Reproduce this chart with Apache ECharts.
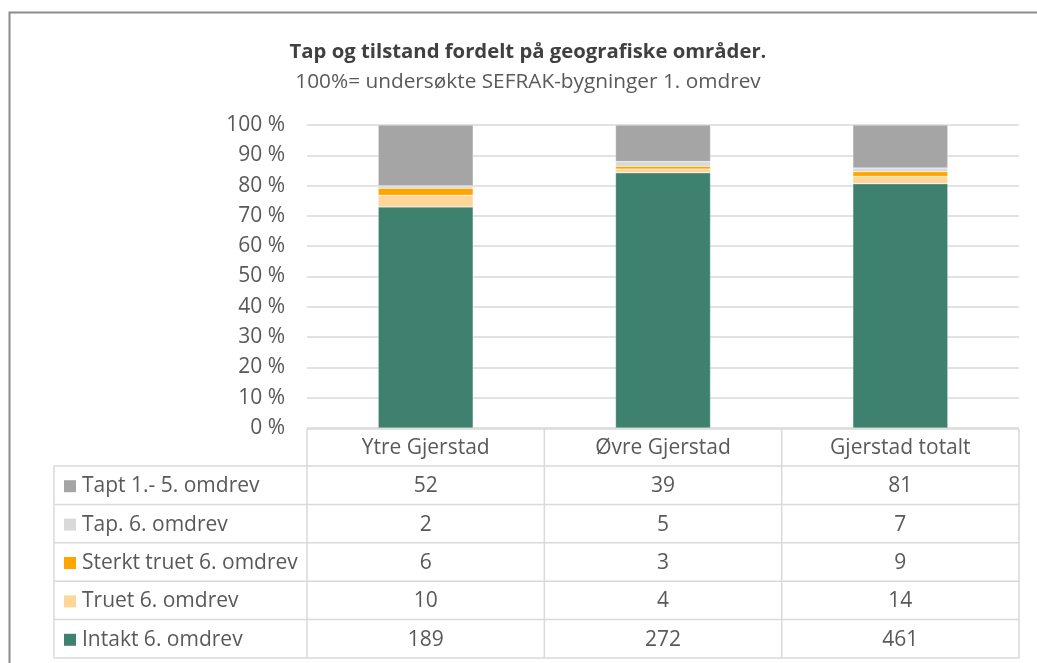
<!DOCTYPE html>
<html><head><meta charset="utf-8">
<script src="https://cdn.jsdelivr.net/npm/echarts@6/dist/echarts.min.js"></script>
<style>html,body{margin:0;padding:0;background:#fff}#c{width:1037px;height:663px}</style>
</head><body><div id="c"></div>
<script>
const categories = ['Ytre Gjerstad', 'Øvre Gjerstad', 'Gjerstad totalt'];
const tapt15 = [52, 39, 81];
const tap6 = [2, 5, 7];
const sterktTruet6 = [6, 3, 9];
const truet6 = [10, 4, 14];
const intakt6 = [189, 272, 461];
const yTicks = [0, 10, 20, 30, 40, 50, 60, 70, 80, 90, 100];

const seriesDefs = [
  { name: 'Intakt 6. omdrev', data: intakt6, color: '#3E816F' },
  { name: 'Truet 6. omdrev', data: truet6, color: '#FFD699' },
  { name: 'Sterkt truet 6. omdrev', data: sterktTruet6, color: '#FFA500' },
  { name: 'Tap. 6. omdrev', data: tap6, color: '#D9D9D9' },
  { name: 'Tapt 1.- 5. omdrev', data: tapt15, color: '#A5A5A5' }
];
const tableOrder = [4, 3, 2, 1, 0];

const totals = categories.map((_, i) => seriesDefs.reduce((s, d) => s + d.data[i], 0));
const FONT = '"Open Sans", "Noto Sans", sans-serif';
const TXT = '#595959';

const chart = echarts.init(document.getElementById('c'), null, { renderer: 'canvas' });
const option = {
  animation: false,
  backgroundColor: '#fff',
  title: {
    text: 'Tap og tilstand fordelt på geografiske områder.',
    subtext: '100%= undersøkte SEFRAK-bygninger 1. omdrev',
    left: 523, top: 37, textAlign: 'center',
    itemGap: 10,
    textStyle: { fontFamily: FONT, fontSize: 20.3, fontWeight: 'bold', color: '#404040' },
    subtextStyle: { fontFamily: FONT, fontSize: 20.8, color: TXT }
  },
  grid: { left: 307, right: 18, top: 125, bottom: 235 },
  xAxis: {
    type: 'category', data: categories,
    axisLine: { show: false }, axisTick: { show: false }, axisLabel: { show: false }
  },
  yAxis: {
    type: 'value', min: 0, max: 100, interval: 10,
    axisLine: { show: false }, axisTick: { show: false },
    axisLabel: { formatter: v => v + ' %', fontFamily: FONT, fontSize: 21, color: TXT, margin: 22 },
    splitLine: { lineStyle: { color: '#D9D9D9', width: 1.5 } }
  },
  series: seriesDefs.map(d => ({
    name: d.name, type: 'bar', stack: 'all', barWidth: '40%',
    data: d.data.map((v, i) => v / totals[i] * 100),
    itemStyle: { color: d.color, borderColor: 'rgba(255,255,255,0.5)', borderWidth: 0.5 }
  }))
};
chart.setOption(option);

// build data table below the axis
const colW = chart.convertToPixel({ xAxisIndex: 0 }, 1) - chart.convertToPixel({ xAxisIndex: 0 }, 0);
const x0 = 307, x1 = 1019, leftX = 54;
const tTop = 429, headH = 37, rowH = 38.4;
const LC = '#D9D9D9';
const g = [];
g.push({ type: 'rect', shape: { x: 9.5, y: 12.5, width: 1040, height: 660 }, style: { fill: 'none', stroke: '#8C8C8C', lineWidth: 2 }, z: 100 });
g.push({ type: 'line', shape: { x1: x0, y1: tTop, x2: x1, y2: tTop }, style: { stroke: LC, lineWidth: 1.5 } });
const yEnd = tTop + headH + rowH * tableOrder.length;
for (let r = 0; r <= tableOrder.length; r++) {
  const y = tTop + headH + r * rowH;
  g.push({ type: 'line', shape: { x1: leftX, y1: y, x2: x1, y2: y }, style: { stroke: LC, lineWidth: 1.5 } });
}
g.push({ type: 'line', shape: { x1: leftX, y1: tTop + headH, x2: leftX, y2: yEnd }, style: { stroke: LC, lineWidth: 1.5 } });
for (let c = 0; c <= categories.length; c++) {
  const x = x0 + c * colW;
  g.push({ type: 'line', shape: { x1: x, y1: tTop, x2: x, y2: yEnd }, style: { stroke: LC, lineWidth: 1.5 } });
}
categories.forEach((cat, i) => {
  const cx = chart.convertToPixel({ xAxisIndex: 0 }, i);
  g.push({ type: 'text', x: cx, y: tTop + headH / 2 + 1, style: { text: cat, fontFamily: FONT, fontSize: 21, fill: TXT, align: 'center', verticalAlign: 'middle' } });
});
tableOrder.forEach((si, r) => {
  const d = seriesDefs[si];
  const cy = tTop + headH + r * rowH + rowH / 2 + 1;
  g.push({ type: 'rect', shape: { x: 64, y: cy - 6, width: 12, height: 12 }, style: { fill: d.color } });
  g.push({ type: 'text', x: 82, y: cy, style: { text: d.name, fontFamily: FONT, fontSize: 21, fill: TXT, align: 'left', verticalAlign: 'middle' } });
  d.data.forEach((v, i) => {
    const cx = chart.convertToPixel({ xAxisIndex: 0 }, i);
    g.push({ type: 'text', x: cx, y: cy, style: { text: String(v), fontFamily: FONT, fontSize: 21, fill: TXT, align: 'center', verticalAlign: 'middle' } });
  });
});
chart.setOption({ graphic: g });
</script>
</body></html>
